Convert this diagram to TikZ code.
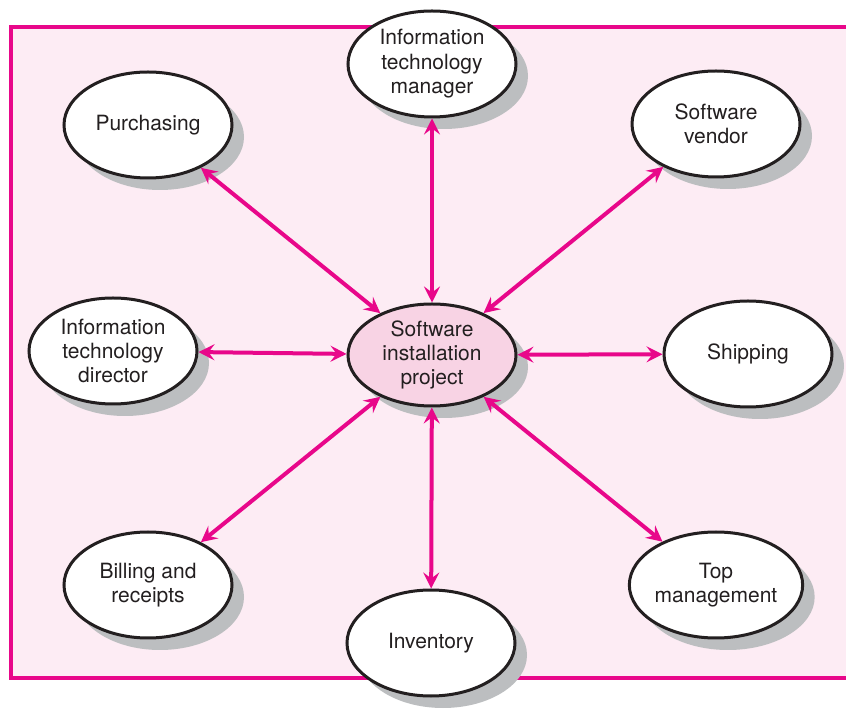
\documentclass[tikz,border=0pt]{standalone}
\usepackage{fontspec}
\setmainfont{TeX Gyre Heros}
\usetikzlibrary{shapes.geometric,shadows,arrows.meta}

\definecolor{framepink}{HTML}{E8078A}
\definecolor{bgpink}{HTML}{FDECF4}
\definecolor{hubpink}{HTML}{F8D3E4}
\definecolor{shadowgray}{HTML}{BCBEC0}
\definecolor{textgray}{HTML}{231F20}

\tikzset{
  party/.style={ellipse, draw=textgray, line width=1.5pt, fill=white,
    minimum width=84pt, minimum height=53pt, inner sep=0pt, align=center,
    text=textgray, font=\fontsize{10.5}{12.2}\selectfont,
    drop shadow={shadow xshift=6pt, shadow yshift=-6pt, fill=shadowgray, opacity=1}},
  hub/.style={party, fill=hubpink, minimum height=51pt},
  link/.style={{Stealth[length=8pt,width=8pt,inset=3pt]}-{Stealth[length=8pt,width=8pt,inset=3pt]},
    draw=framepink, line width=2pt}
}

\begin{document}
\begin{tikzpicture}[x=0.5pt, y=-0.5pt]
        \useasboundingbox (0,0) rectangle (846,710);
        \clip (0,0) rectangle (846,710);

        % Frame
        \draw[framepink, line width=2pt, fill=bgpink] (11,27) rectangle (870,678);

        % Project in the middle
        \node[hub] (project) at (432,355) {Software\\installation\\project};

        % Stakeholders round it
        \node[party] (itmanager) at (432,64) {Information\\technology\\manager};
        \node[party] (purchasing) at (148,125) {Purchasing};
        \node[party] (vendor) at (716,124) {Software\\vendor};
        \node[party] (itdirector) at (113,351) {Information\\technology\\director};
        \node[party] (shipping) at (748,354) {Shipping};
        \node[party] (billing) at (148,585) {Billing and\\receipts};
        \node[party] (topmgmt) at (716,585) {Top\\management};
        \node[party] (inventory) at (431,643) {Inventory};

        % Arrows
        \draw[link] (project) -- (itmanager);
        \draw[link] (project) -- (purchasing);
        \draw[link] (project) -- (vendor);
        \draw[link] (project) -- (itdirector);
        \draw[link] (project) -- (shipping);
        \draw[link] (project) -- (billing);
        \draw[link] (project) -- (topmgmt);
        \draw[link] (project) -- (inventory);
\end{tikzpicture}
\end{document}
